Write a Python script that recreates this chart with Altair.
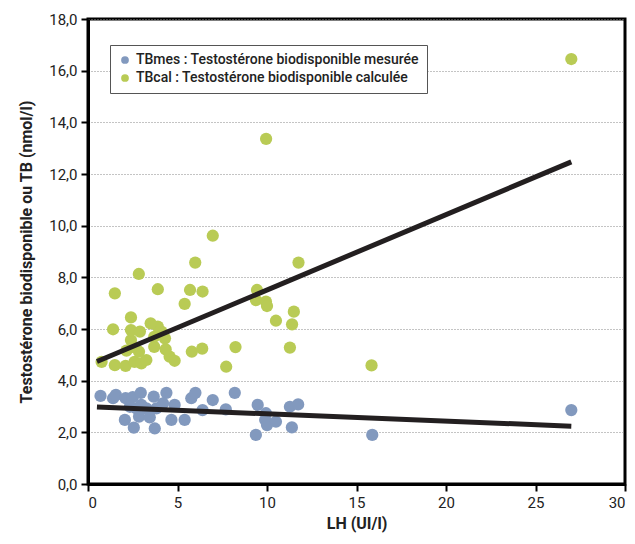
import altair as alt
import pandas as pd

# Measured bioavailable testosterone (TBmes)
mes_x = [0.7, 1.4, 1.56, 2.1, 2.5, 2.95, 3.67, 4.38, 2.34, 2.7, 2.98, 3.26, 3.82, 4.19, 4.84,
         2.06, 2.85, 3.45, 2.56, 3.73, 4.66, 5.4, 5.77, 6.0, 6.97, 6.4, 8.2, 7.7, 9.48, 9.38,
         9.94, 9.9, 10.0, 10.5, 11.28, 11.74, 11.39, 15.88, 27.0]
mes_y = [3.41, 3.32, 3.45, 3.32, 3.36, 3.53, 3.38, 3.53, 2.99, 2.93, 3.06, 2.93, 2.93, 3.12, 3.06,
         2.48, 2.61, 2.58, 2.18, 2.15, 2.48, 2.48, 3.32, 3.53, 3.25, 2.86, 3.53, 2.89, 3.06, 1.9,
         2.74, 2.48, 2.28, 2.41, 2.99, 3.08, 2.19, 1.9, 2.86]

# Calculated bioavailable testosterone (TBcal)
cal_x = [0.76, 1.5, 2.1, 2.6, 2.98, 3.26, 4.56, 4.84, 2.15, 2.85, 2.5, 3.7, 4.34, 2.4, 3.7,
         4.3, 2.4, 2.9, 4.1, 3.9, 3.5, 1.4, 2.4, 1.5, 3.9, 5.7, 6.4, 5.4, 2.84, 5.99,
         6.97, 9.95, 27.0, 9.44, 9.38, 9.94, 10.0, 10.5, 11.5, 11.4, 11.76, 5.8, 6.38, 8.24, 11.28,
         7.72, 15.84]
cal_y = [4.73, 4.6, 4.57, 4.73, 4.67, 4.8, 4.93, 4.77, 5.16, 5.12, 5.31, 5.31, 5.21, 5.57, 5.7,
         5.64, 5.96, 5.9, 5.9, 6.09, 6.22, 5.99, 6.45, 7.38, 7.54, 7.51, 7.45, 6.97, 8.13, 8.57,
         9.61, 13.36, 16.45, 7.51, 7.12, 7.06, 6.89, 6.32, 6.67, 6.18, 8.57, 5.12, 5.24, 5.3, 5.28,
         4.54, 4.59]

# Trend line end points
trend_x = [0.5, 27.0]
trend_mes = [2.98, 2.24]
trend_cal = [4.74, 12.47]

lab_mes = "TBmes : Testostérone biodisponible mesurée"
lab_cal = "TBcal : Testostérone biodisponible calculée"

pts = pd.concat([
    pd.DataFrame({"x": mes_x, "y": mes_y, "s": lab_mes}),
    pd.DataFrame({"x": cal_x, "y": cal_y, "s": lab_cal}),
])
trend = pd.concat([
    pd.DataFrame({"x": trend_x, "y": trend_mes, "s": "mes"}),
    pd.DataFrame({"x": trend_x, "y": trend_cal, "s": "cal"}),
])

FONT = "Roboto, Liberation Sans, sans-serif"

xs = alt.Scale(domain=[0, 30], nice=False)
ys = alt.Scale(domain=[0, 18], nice=False)

points = alt.Chart(pts).mark_circle(size=150, opacity=1).encode(
    x=alt.X("x:Q", scale=xs, title="LH (UI/l)",
            axis=alt.Axis(values=[0, 5, 10, 15, 20, 25, 30], grid=False, labelFlush=True)),
    y=alt.Y("y:Q", scale=ys, title="Testostérone biodisponible ou TB (nmol/l)",
            axis=alt.Axis(values=list(range(0, 19, 2)), grid=True,
                          labelExpr="replace(format(datum.value, '.1f'), '.', ',')")),
    color=alt.Color("s:N", scale=alt.Scale(domain=[lab_mes, lab_cal], range=["#8299BE", "#B9CB55"]),
                    legend=alt.Legend(title=None, orient="none", legendX=22, legendY=26,
                                      strokeColor="#555555", padding=8, fillColor="white",
                                      labelFont=FONT, labelFontSize=14, labelColor="#222222",
                                      labelFontWeight=500,
                                      symbolSize=60, symbolType="circle", rowPadding=4,
                                      labelLimit=400, symbolStrokeWidth=0)),
)

lines = alt.Chart(trend).mark_line(color="#231f20", strokeWidth=5).encode(
    x=alt.X("x:Q", scale=xs),
    y=alt.Y("y:Q", scale=ys),
    detail="s:N",
)

chart = alt.layer(points, lines).properties(
    width=537, height=465,
    autosize=alt.AutoSizeParams(type="none"),
    padding={"left": 80, "top": 11, "right": 2, "bottom": 50},
).configure_view(
    stroke="black", strokeWidth=3,
).configure_axis(
    domainColor="black", domainWidth=3, tickColor="black", tickWidth=2, tickSize=7,
    labelFont=FONT, labelFontSize=15, labelColor="#222222", labelPadding=4,
    titleFont=FONT, titleFontSize=16, titleFontWeight="bold", titleColor="#222222",
    gridColor="#888888", gridDash=[1, 2], gridWidth=1,
).configure_axisY(
    titlePadding=14,
).configure_axisX(
    titlePadding=5,
)

chart.save("out.html", embed_options={"renderer": "svg", "actions": False})
